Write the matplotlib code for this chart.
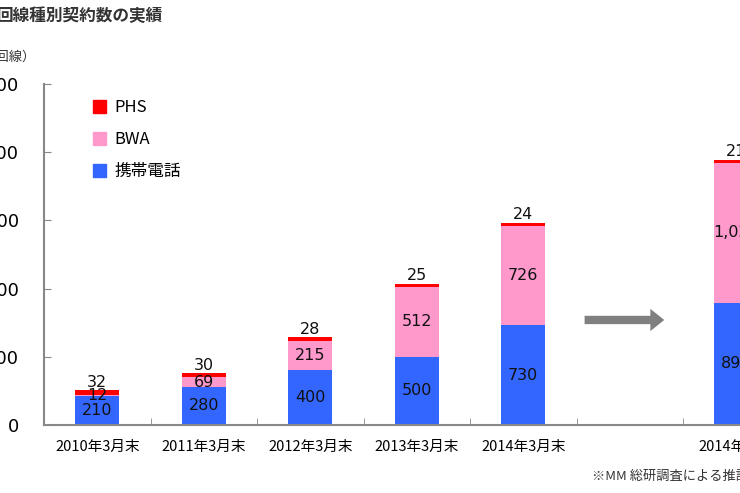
import matplotlib
matplotlib.use("Agg")
import matplotlib.pyplot as plt
import numpy as np

plt.rcParams['font.family'] = ['Noto Sans CJK JP', 'DejaVu Sans']

categories = ["2010年3月末", "2011年3月末", "2012年3月末", "2013年3月末", "2014年3月末", "", "2014年度末"]
mobile = [210, 280, 400, 500, 730, None, 898]
bwa = [12, 69, 215, 512, 726, None, 1023]
phs = [32, 30, 28, 25, 24, None, 21]
yticks = [0, 500, 1000, 1500, 2000, 2500]
ytick_labels = ["0", "500", "1,000", "1,500", "2,000", "2,500"]

W, H = 740, 493
fig = plt.figure(figsize=(W/100, H/100), dpi=100)
ax = fig.add_axes([44/W, (H-425)/H, 745.5/W, 341/H])
ax.set_xlim(-0.5, 6.5)
ax.set_ylim(0, 2500)

blue, pink, red = "#3366FF", "#FF99CC", "#FF0000"
bw = 44/106.5
for i, c in enumerate(categories):
    if mobile[i] is None:
        continue
    m, b, p = mobile[i], bwa[i], phs[i]
    ax.bar(i, m, width=bw, color=blue)
    ax.bar(i, b, width=bw, bottom=m, color=pink)
    ax.bar(i, p, width=bw, bottom=m+b, color=red)
    ax.text(i, m/2, f"{m:,}", ha='center', va='center', fontsize=11.5, family='DejaVu Sans', color='#111')
    ax.text(i, m + b/2, f"{b:,}", ha='center', va='center', fontsize=11.5, family='DejaVu Sans', color='#111')
    ax.text(i, m + b + p + 5, f"{p:,}", ha='center', va='bottom', fontsize=11.5, family='DejaVu Sans', color='#111')

for s in ['top', 'right']:
    ax.spines[s].set_visible(False)
for s in ['left', 'bottom']:
    ax.spines[s].set_color('#888888')
    ax.spines[s].set_linewidth(1.5)
ax.set_yticks(yticks)
ax.set_yticklabels(ytick_labels, fontsize=13, family='DejaVu Sans')
ax.tick_params(axis='y', direction='in', length=5, color='#888888', pad=18)
ax.set_xticks(np.arange(len(categories)))
ax.set_xticklabels(categories, fontsize=10.5)
ax.tick_params(axis='x', length=0, pad=11)
ax.set_xticks(np.arange(len(categories)) + 0.5, minor=True)
ax.tick_params(axis='x', which='minor', direction='in', length=5, color='#888888')

ax.annotate("", xy=(5.35, 770), xytext=(4.55, 770),
            arrowprops=dict(arrowstyle="simple,head_width=1.6,head_length=1.0,tail_width=0.6",
                            color="#808080", lw=0))

from matplotlib.patches import Patch
handles = [Patch(color=red), Patch(color=pink), Patch(color=blue)]
fig.legend(handles, ["PHS", "BWA", "携帯電話"], loc='upper left',
           bbox_to_anchor=(78/W, 1-84/H), frameon=False, fontsize=12,
           handlelength=0.8, handleheight=0.8, labelspacing=0.9, handletextpad=0.5)

fig.text(-3/W, 1-16/H, "回線種別契約数の実績", fontsize=12, fontweight='bold', va='center', ha='left', color='#333')
fig.text(36/W, 1-57/H, "（万回線）", fontsize=9.5, va='center', ha='right', color='#333')
fig.text(592/W, 1-476/H, "※MM 総研調査による推計", fontsize=9.5, va='center', ha='left', color='#333')

fig.savefig("out.png", dpi=100)
